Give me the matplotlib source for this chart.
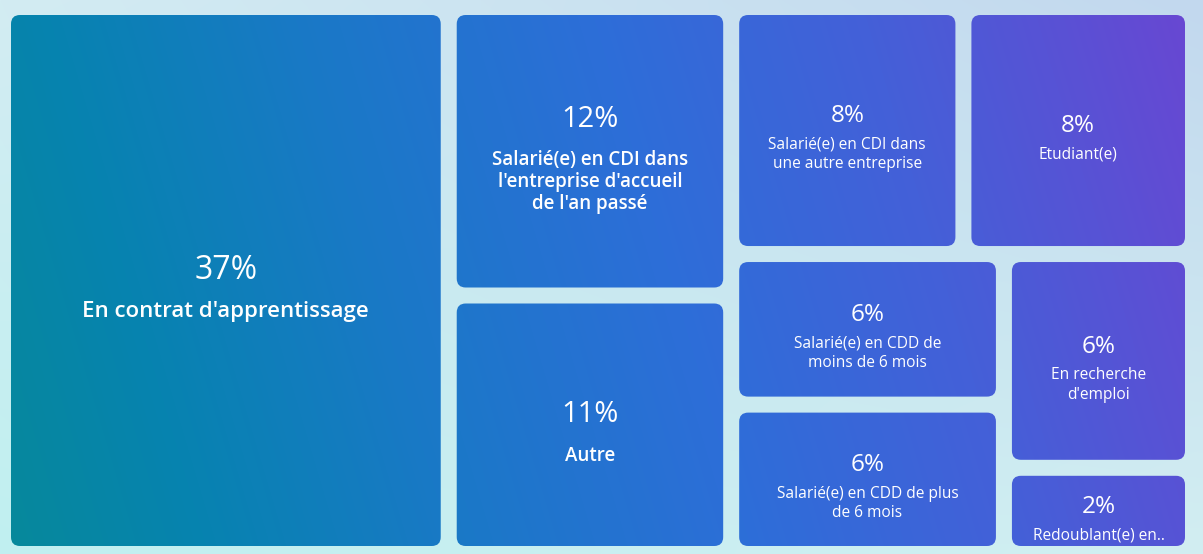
import matplotlib.pyplot as plt
import numpy as np
from matplotlib.patches import FancyBboxPatch
from matplotlib.colors import LinearSegmentedColormap, to_rgb

# Дані (частки, %) — порядок як у treemap (за спаданням площі)
categories = [
    "En contrat d'apprentissage",
    "Salarié(e) en CDI dans\nl'entreprise d'accueil\nde l'an passé",
    "Autre",
    "Salarié(e) en CDI dans\nune autre entreprise",
    "Etudiant(e)",
    "Salarié(e) en CDD de\nmoins de 6 mois",
    "Salarié(e) en CDD de plus\nde 6 mois",
    "En recherche\nd'emploi",
    "Redoublant(e) en..",
]
values = [37.4, 12.5, 11.2, 8.8, 8.7, 6.3, 6.25, 6.2, 2.5]

W, H = 1203, 554
plt.rcParams['font.family'] = ['Open Sans', 'DejaVu Sans']


# --- squarified treemap ---
def worst(row, side):
    s = sum(row)
    return max(max(side ** 2 * r / s ** 2, s ** 2 / (side ** 2 * r)) for r in row)


def squarify(vals, x, y, w, h):
    total = sum(vals)
    areas = [v * w * h / total for v in vals]
    rects = []
    while areas:
        side = min(w, h)
        row = [areas[0]]
        i = 1
        while i < len(areas) and worst(row + [areas[i]], side) <= worst(row, side):
            row.append(areas[i])
            i += 1
        s = sum(row)
        if w >= h:  # колонка зліва
            cw = s / h
            yy = y
            for a in row:
                rects.append((x, yy, cw, a / cw))
                yy += a / cw
            x += cw
            w -= cw
        else:  # рядок зверху
            rh = s / w
            xx = x
            for a in row:
                rects.append((xx, y, a / rh, rh))
                xx += a / rh
            y += rh
            h -= rh
        areas = areas[i:]
    return rects


rects = squarify(values, 3, 7, 1190, 547)

fig = plt.figure(figsize=(W / 100, H / 100), dpi=100)
ax = fig.add_axes([0, 0, 1, 1])
ax.set_xlim(0, W)
ax.set_ylim(H, 0)
ax.axis('off')

# фон — світлий градієнт
yy, xx = np.mgrid[0:H, 0:W]
u = xx / (W - 1)
v = yy / (H - 1)
tl, tr = np.array(to_rgb('#d3ecf3')), np.array(to_rgb('#c2d8ee'))
bl, br = np.array(to_rgb('#c0f0f0')), np.array(to_rgb('#d2eef2'))
bg = ((1 - u)[..., None] * (1 - v)[..., None] * tl + u[..., None] * (1 - v)[..., None] * tr
      + (1 - u)[..., None] * v[..., None] * bl + u[..., None] * v[..., None] * br)
ax.imshow(bg, extent=(0, W, H, 0), aspect='auto', zorder=0)

# градієнт плиток: бірюзовий -> синій -> фіолетовий
cmap = LinearSegmentedColormap.from_list(
    'tiles', [(0, '#06899a'), (0.15, '#0783b0'), (0.35, '#1b78c8'), (0.55, '#2d6ed8'),
              (0.75, '#4460d8'), (1, '#6a46d2')])
t = 0.88 * u + 0.12 * (1 - v)
tile_img = cmap(t)[..., :3]

gap = 8
for (x, y, w, h), lab, val in zip(rects, categories, values):
    x0, y0, x1, y1 = x + gap, y + gap, x + w - gap, y + h - gap
    patch = FancyBboxPatch((x0, y0), x1 - x0, y1 - y0,
                           boxstyle='round,pad=0,rounding_size=9',
                           facecolor='none', edgecolor='none', zorder=1)
    ax.add_patch(patch)
    ix0, ix1 = int(max(x0 - 2, 0)), int(min(x1 + 2, W))
    iy0, iy1 = int(max(y0 - 2, 0)), int(min(y1 + 2, H))
    im = ax.imshow(tile_img[iy0:iy1, ix0:ix1], extent=(ix0, ix1, iy1, iy0),
                   aspect='auto', zorder=1)
    im.set_clip_path(patch)

    lines = lab.split('\n')
    n = len(lines)
    area = (x1 - x0) * (y1 - y0)
    if area > 150000:
        pct_fs, lab_fs, ph, dist, lh, lab_cap, lab_w = 23, 16, 22, 41, 22, 15, 'semibold'
    elif area > 50000:
        pct_fs, lab_fs, ph, dist, lh, lab_cap, lab_w = 21, 13.5, 21, 42, 22, 14, 'semibold'
    else:
        pct_fs, lab_fs, ph, dist, lh, lab_cap, lab_w = 17.5, 11.2, 17, 29, 19.5, 12, 'normal'
    cx = (x0 + x1) / 2
    cy = (y0 + y1) / 2 + 7
    hh = lab_cap * 0.6
    pc = cy - (dist + (n - 1) * lh + hh - ph / 2) / 2
    ax.text(cx, pc + ph / 2, f"{int(val)}%", color='white', fontsize=pct_fs,
            ha='center', va='baseline', zorder=3)
    for k, line in enumerate(lines):
        lc = pc + dist + k * lh
        ax.text(cx, lc + lab_cap / 2, line, color='white', fontsize=lab_fs,
                fontweight=lab_w, ha='center', va='baseline', zorder=3)

fig.savefig('out.png', dpi=100)
